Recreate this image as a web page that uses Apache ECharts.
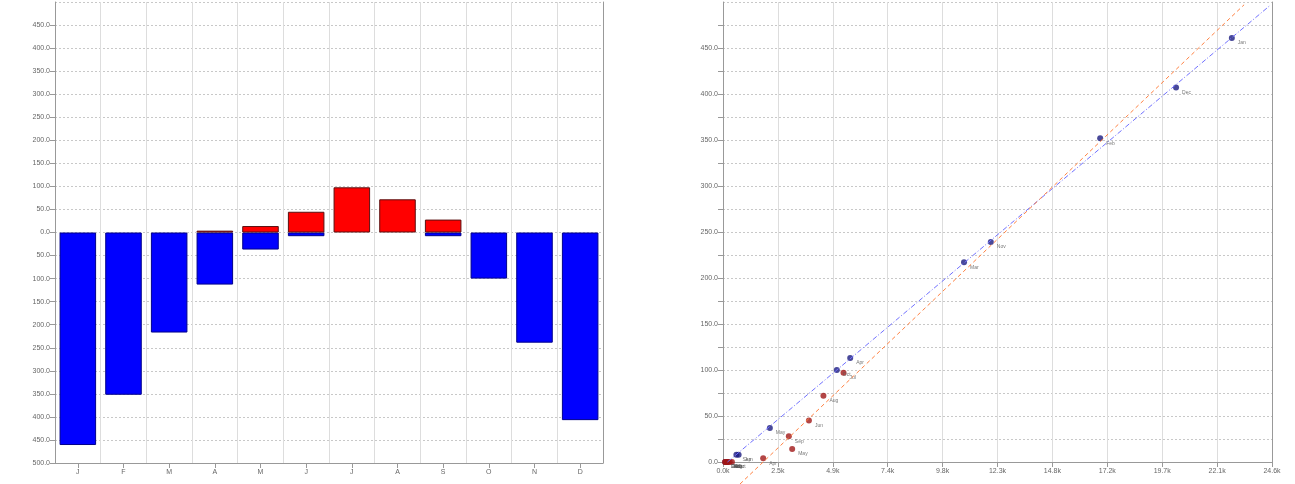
<!DOCTYPE html>
<html>
<head>
<meta charset="utf-8">
<script src="https://cdn.jsdelivr.net/npm/echarts@6/dist/echarts.min.js"></script>
<style>
html,body{margin:0;padding:0;background:#fff;}
#c{width:1295px;height:484px;}
</style>
</head>
<body>
<div id="c"></div>
<script>
// ---- data ----
const months = ['J','F','M','A','M','J','J','A','S','O','N','D'];
const heating = [-461,-352,-217,-113,-37,-8,0,0,-8,-100,-239,-407];
const cooling = [0,0,0,4,14,45,98,72,28,0,0,0];

const monthNames = ['Jan','Feb','Mar','Apr','May','Jun','Jul','Aug','Sep','Oct','Nov','Dec'];
const heatX = [22.8,16.9,10.8,5.7,2.1,0.7,0.1,0.2,0.6,5.1,12.0,20.3];
const heatY = [461,352,217,113,37,8,0,0,8,100,239,407];
const coolX = [0.2,0.1,0.3,1.8,3.1,3.85,5.4,4.5,2.95,0.4,0.2,0.1];
const coolY = [0,0,0,4,14,45,97,72,28,0,0,0];

const heatLineX = [0.2,24.5];
const heatLineY = [0,496];
const coolLineX = [0.76,23.35];
const coolLineY = [-24,497];

const xTickStep = 2.46;

// ---- chart ----
const chart = echarts.init(document.getElementById('c'));
const lab = {fontSize:7,color:'#666',fontFamily:'Liberation Sans, Arial, sans-serif'};
const axLine = {show:true,lineStyle:{color:'#999',width:1}};
const nz = v => (v === 0 ? '-' : v);

const heatPts = heatX.map((x,i)=>[x,heatY[i],monthNames[i]]);
const coolPts = coolX.map((x,i)=>[x,coolY[i],monthNames[i]]);

chart.setOption({
  animation:false,
  grid:[
    {left:55,right:692,top:2,bottom:21},
    {left:723,right:23,top:2,bottom:22}
  ],
  xAxis:[
    {gridIndex:0,type:'category',data:months,
     axisLine:Object.assign({onZero:false},axLine),
     axisTick:{show:true,alignWithLabel:true,lineStyle:{color:'#999'}},
     axisLabel:Object.assign({margin:6},lab),
     splitLine:{show:true,interval:0,lineStyle:{color:'#ddd',width:1}}},
    {gridIndex:1,type:'value',min:0,max:24.6,interval:xTickStep,
     axisLine:Object.assign({onZero:false},axLine),
     axisTick:{show:true,lineStyle:{color:'#999'}},
     axisLabel:Object.assign({margin:6,formatter:v=>v.toFixed(1)+'k'},lab),
     splitLine:{show:true,lineStyle:{color:'#ddd',width:1}}}
  ],
  yAxis:[
    {gridIndex:0,type:'value',min:-500,max:500,interval:50,
     axisLine:axLine,axisTick:{show:true,lineStyle:{color:'#999'}},
     axisLabel:Object.assign({margin:5,showMaxLabel:false,formatter:v=>Math.abs(v).toFixed(1)},lab),
     splitLine:{show:true,lineStyle:{color:'#c8c8c8',type:[2,2],width:1}}},
    {gridIndex:0,type:'value',position:'right',min:-500,max:500,interval:50,
     axisLine:axLine,axisTick:{show:false},axisLabel:{show:false},splitLine:{show:false}},
    {gridIndex:1,type:'value',min:0,max:500,interval:25,
     axisLine:axLine,axisTick:{show:true,lineStyle:{color:'#999'}},
     axisLabel:Object.assign({margin:5,showMaxLabel:false,formatter:v=>(v%50===0)?v.toFixed(1):''},lab),
     splitLine:{show:true,lineStyle:{color:'#c8c8c8',type:[2,2],width:1}}},
    {gridIndex:1,type:'value',position:'right',min:0,max:500,interval:25,
     axisLine:axLine,axisTick:{show:false},axisLabel:{show:false},splitLine:{show:false}}
  ],
  series:[
    {type:'bar',xAxisIndex:0,yAxisIndex:0,stack:'dd',data:heating.map(nz),barWidth:'80%',
     itemStyle:{color:'#0000ff',borderColor:'#00008b',borderWidth:1}},
    {type:'bar',xAxisIndex:0,yAxisIndex:0,stack:'dd',data:cooling.map(nz),barWidth:'80%',
     itemStyle:{color:'#ff0000',borderColor:'#5a1010',borderWidth:1}},
    {type:'line',xAxisIndex:1,yAxisIndex:2,data:heatLineX.map((x,i)=>[x,heatLineY[i]]),
     symbol:'none',clip:false,lineStyle:{color:'#7070ff',width:1,type:[5,2,1,2]}},
    {type:'line',xAxisIndex:1,yAxisIndex:2,data:coolLineX.map((x,i)=>[x,coolLineY[i]]),
     symbol:'none',clip:false,lineStyle:{color:'#ff8040',width:1,type:[4,3]}},
    {type:'scatter',xAxisIndex:1,yAxisIndex:2,data:heatPts,symbolSize:6,clip:false,
     itemStyle:{color:'#1a1a80'},
     label:{show:true,position:'right',offset:[-2,5],formatter:p=>p.data[2],fontSize:5,color:'#555'}},
    {type:'scatter',xAxisIndex:1,yAxisIndex:2,data:coolPts,symbolSize:6,clip:false,
     itemStyle:{color:'#a01818'},
     label:{show:true,position:'right',offset:[-2,5],formatter:p=>p.data[2],fontSize:5,color:'#555'}}
  ]
});
</script>
</body>
</html>
